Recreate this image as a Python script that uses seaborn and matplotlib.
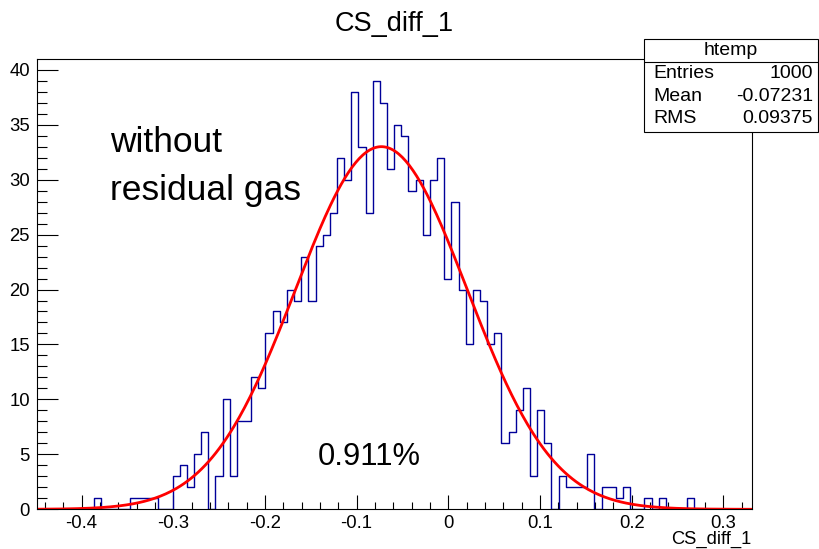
import numpy as np
import pandas as pd
import matplotlib
matplotlib.use("Agg")
import matplotlib.pyplot as plt
import seaborn as sns
from matplotlib.patches import Rectangle
from matplotlib.lines import Line2D
from matplotlib.ticker import MultipleLocator, FixedLocator, FixedFormatter

# ---------------- data ----------------
x_min = -0.449
x_max = 0.331
n_bins = 100

counts = [
    0, 0, 0, 0, 0, 0, 0, 0, 1, 0,
    0, 0, 0, 1, 1, 1, 1, 0, 0, 3,
    4, 2, 5, 7, 0, 3, 10, 3, 8, 8,
    12, 11, 16, 18, 17, 20, 19, 23, 19, 24,
    25, 27, 32, 30, 38, 33, 27, 39, 37, 31,
    35, 34, 29, 30, 25, 30, 32, 21, 28, 20,
    15, 20, 19, 15, 16, 6, 7, 9, 11, 3,
    9, 6, 0, 3, 2, 2, 2, 5, 0, 2,
    2, 1, 2, 0, 0, 1, 0, 1, 0, 0,
    0, 1, 0, 0, 0, 0, 0, 0, 0, 0,
]

fit_const = 33.0
fit_mean = -0.073
fit_sigma = 0.0936

xtick_vals = [-0.4, -0.3, -0.2, -0.1, 0.0, 0.1, 0.2, 0.3]
xtick_labels = ["-0.4", "-0.3", "-0.2", "-0.1", "0", "0.1", "0.2", "0.3"]
ytick_vals = [0, 5, 10, 15, 20, 25, 30, 35, 40]
ytick_labels = ["0", "5", "10", "15", "20", "25", "30", "35", "40"]

title_text = "CS_diff_1"
xlabel_text = "CS_diff_1"
stats_name = "htemp"
stats_rows = [("Entries", "1000"), ("Mean", "-0.07231"), ("RMS", "0.09375")]
note1 = "without"
note2 = "residual gas"
note3 = "0.911%"

# ---------------- style ----------------
sns.set_style("ticks")
plt.rcParams["font.family"] = ["Liberation Sans", "DejaVu Sans"]
plt.rcParams["text.color"] = "black"
plt.rcParams["xtick.color"] = "black"
plt.rcParams["ytick.color"] = "black"
plt.rcParams["axes.labelcolor"] = "black"

W, H = 819, 549
fig = plt.figure(figsize=(W / 100, H / 100), dpi=100)
fig.patch.set_facecolor("white")

L, R, T, B = 36.7, 751.7, 59.3, 509.3
ax = fig.add_axes([L / W, 1 - B / H, (R - L) / W, (B - T) / H])

edges = np.linspace(x_min, x_max, n_bins + 1)
centers = 0.5 * (edges[:-1] + edges[1:])
df = pd.DataFrame({"x": centers, "w": np.asarray(counts, dtype=float)})

sns.histplot(data=df, x="x", weights="w", bins=n_bins, binrange=(x_min, x_max),
             element="step", fill=False, color="#000099", linewidth=1.0, ax=ax)

fx = np.linspace(x_min, x_max, 400)
fy = fit_const * np.exp(-0.5 * ((fx - fit_mean) / fit_sigma) ** 2)
sns.lineplot(x=fx, y=fy, color="#ff0000", linewidth=2.0, ax=ax)

ax.set_xlim(x_min, x_max)
ax.set_ylim(0, 40.95)
ax.set_xlabel("")
ax.set_ylabel("")
ax.set_facecolor("white")

ax.xaxis.set_major_locator(FixedLocator(xtick_vals))
ax.xaxis.set_major_formatter(FixedFormatter(xtick_labels))
ax.xaxis.set_minor_locator(MultipleLocator(0.02))
ax.yaxis.set_major_locator(FixedLocator(ytick_vals))
ax.yaxis.set_major_formatter(FixedFormatter(ytick_labels))
ax.yaxis.set_minor_locator(MultipleLocator(1))

ax.tick_params(axis="x", which="major", direction="in", length=10, width=0.8,
               labelsize=13.3, pad=4, top=False, color="black", labelcolor="black")
ax.tick_params(axis="x", which="minor", direction="in", length=5, width=0.8, top=False)
ax.tick_params(axis="y", which="major", direction="in", length=15, width=0.8,
               labelsize=13.3, pad=5, right=False, color="black", labelcolor="black")
ax.tick_params(axis="y", which="minor", direction="in", length=7.5, width=0.8, right=False)

for s in ax.spines.values():
    s.set_visible(True)
    s.set_color("black")
    s.set_linewidth(0.8)

# title
fig.text((L + R) / 2 / W, 1 - 30.7 / H, title_text, ha="center", va="baseline",
         fontsize=19.5, color="black")
# x-axis title
fig.text(R / W, 1 - 544 / H, xlabel_text, ha="right", va="baseline", fontsize=13.2,
         color="black")

# annotations
fig.text(110 / W, 1 - 151.7 / H, note1, ha="left", va="baseline", fontsize=25.5,
         color="black")
fig.text(110 / W, 1 - 200 / H, note2, ha="left", va="baseline", fontsize=25.5,
         color="black")
fig.text(318 / W, 1 - 465 / H, note3, ha="left", va="baseline", fontsize=22.2,
         color="black")

# stats box
bx0, by0, bx1, by1 = 644, 39, 818, 131.7
fig.patches.append(Rectangle((bx0 / W, 1 - by1 / H), (bx1 - bx0) / W, (by1 - by0) / H,
                             transform=fig.transFigure, facecolor="white",
                             edgecolor="black", linewidth=0.8, zorder=5))
fig.lines.append(Line2D([bx0 / W, bx1 / W], [1 - 61.5 / H, 1 - 61.5 / H],
                        transform=fig.transFigure, color="black", linewidth=0.8, zorder=6))
fig.text((bx0 + bx1) / 2 / W, 1 - 50.5 / H, stats_name, ha="center", va="center",
         fontsize=14, zorder=7, color="black")
row_y = [73.5, 96.5, 118.5]
for (k, v), yy in zip(stats_rows, row_y):
    fig.text(653 / W, 1 - yy / H, k, ha="left", va="center", fontsize=14, zorder=7,
             color="black")
    fig.text(813 / W, 1 - yy / H, v, ha="right", va="center", fontsize=14, zorder=7,
             color="black")

fig.savefig("out.png", dpi=100)
